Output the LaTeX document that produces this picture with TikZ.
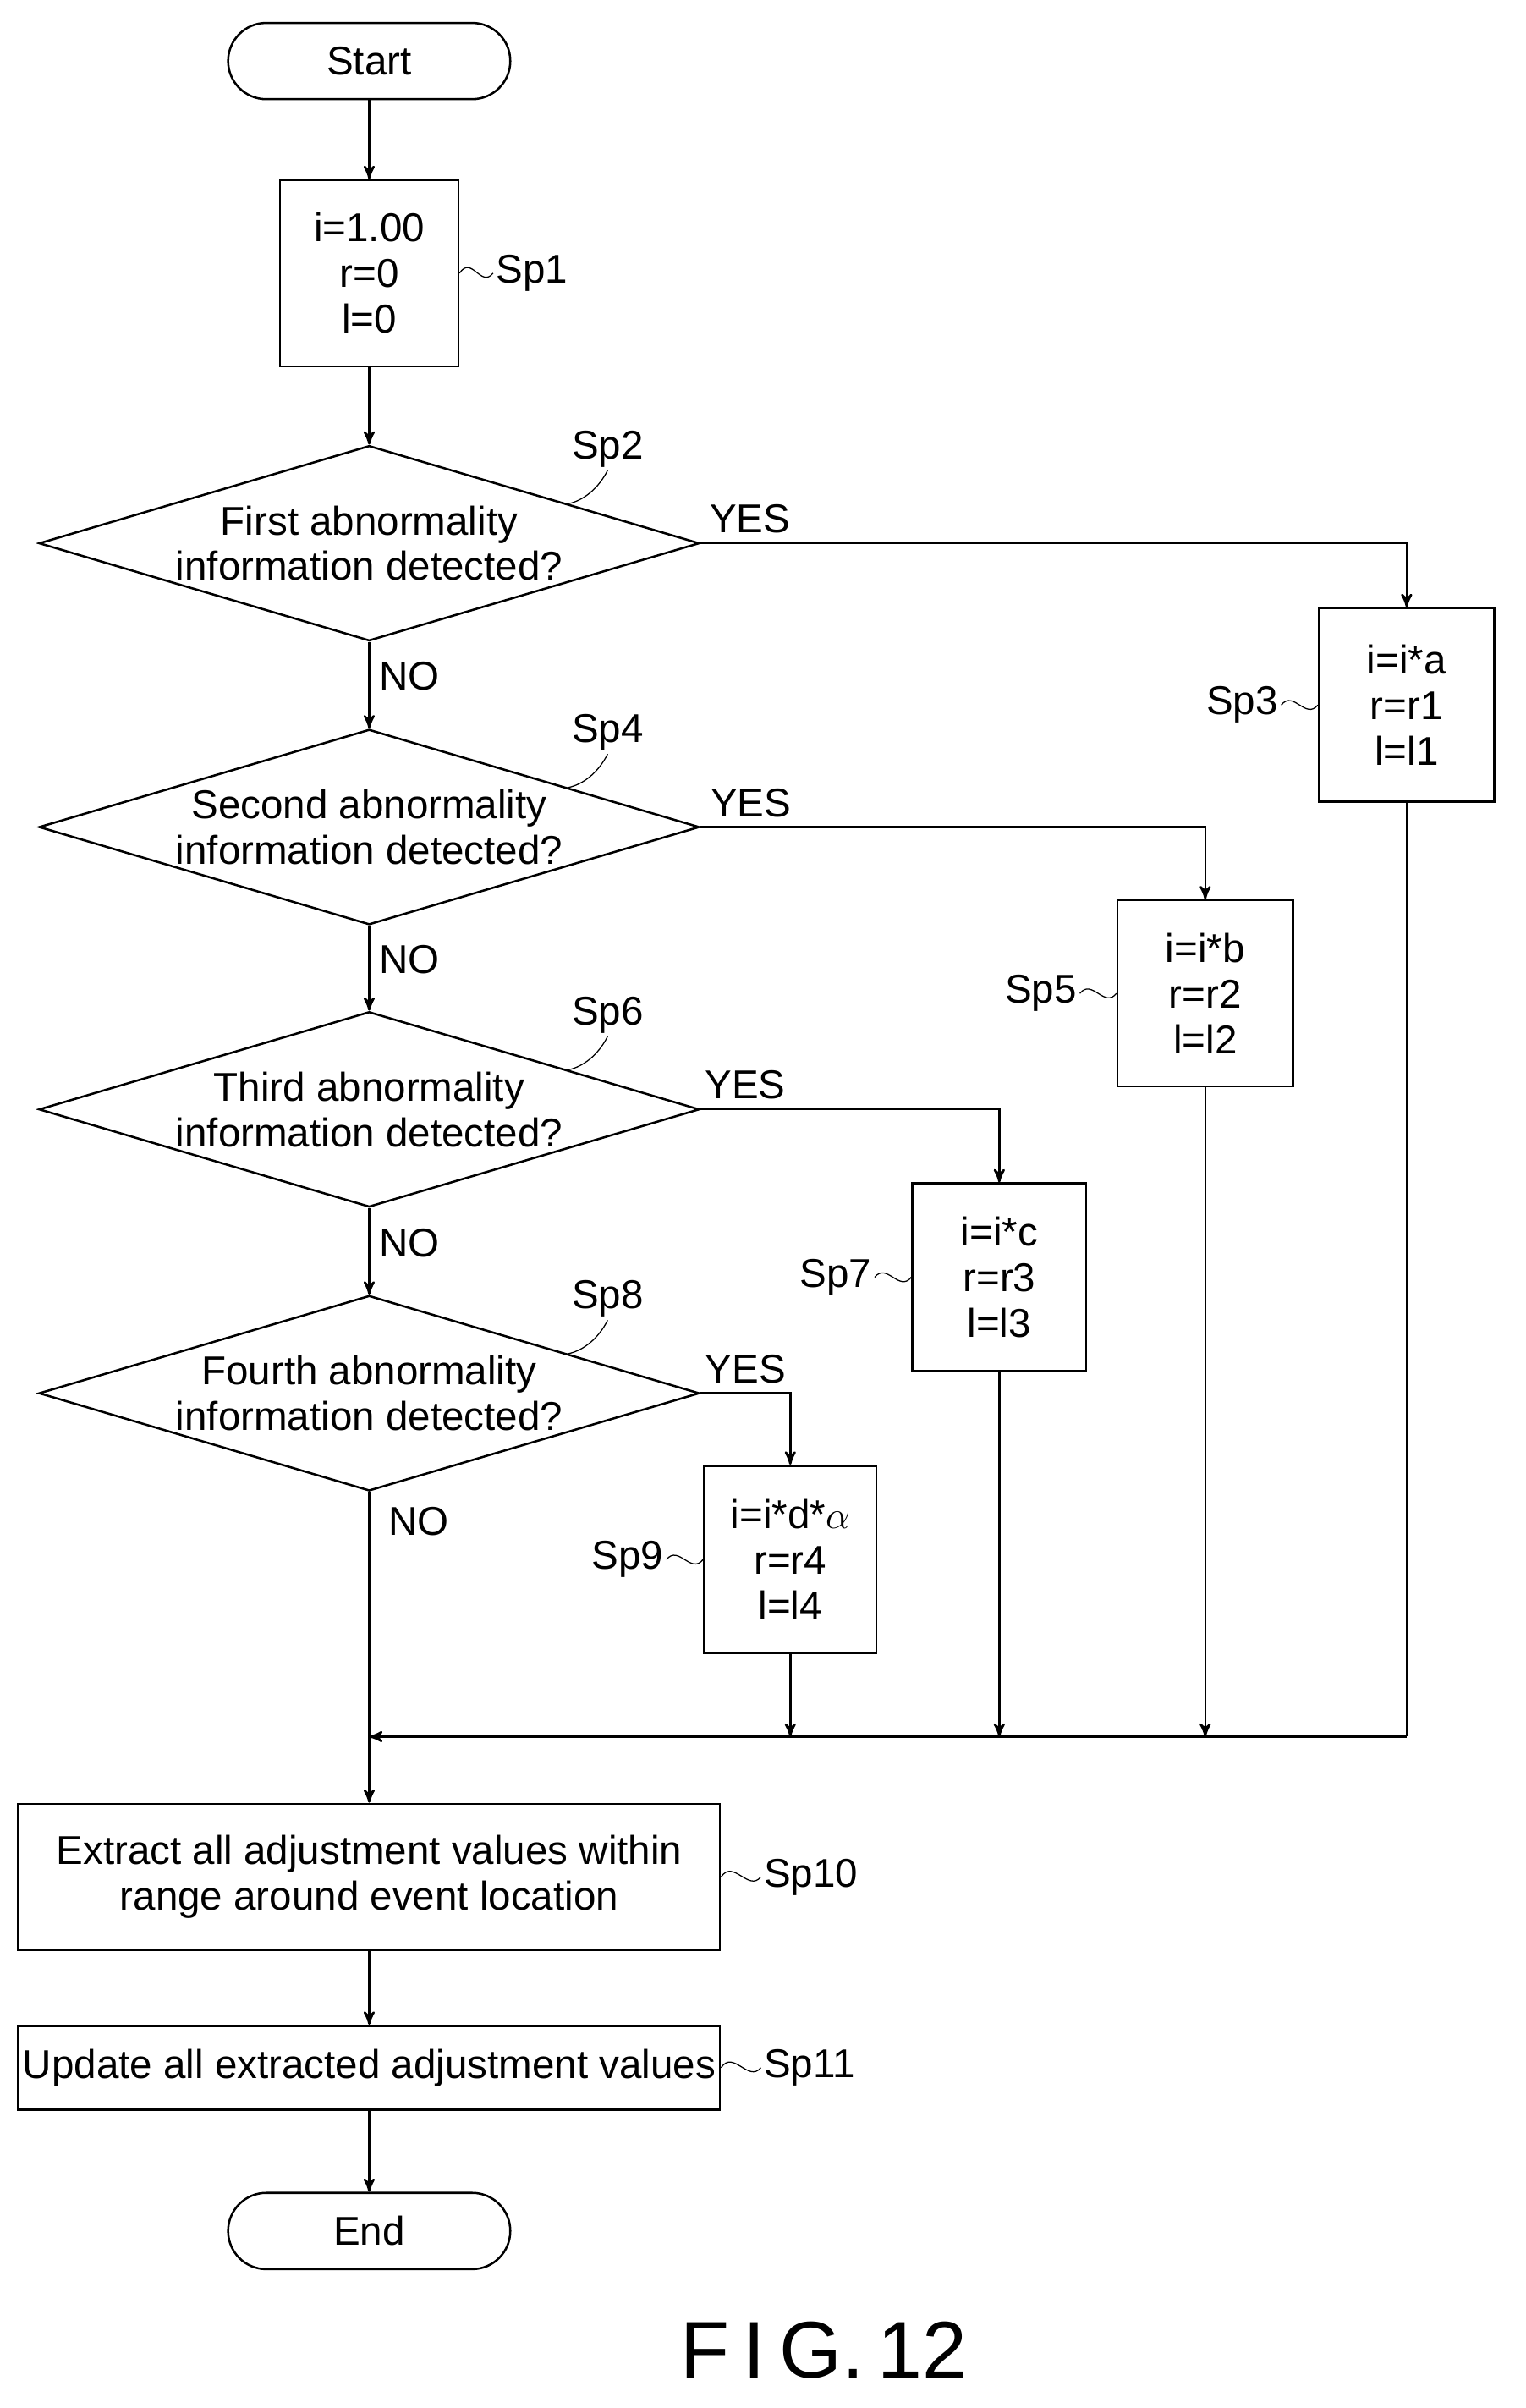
\documentclass[tikz,border=0pt]{standalone}
\usepackage{fontspec}
\setmainfont{Liberation Sans}
\usetikzlibrary{arrows,calc,positioning,shapes.geometric}

\tikzset{
  proc/.style={draw,thick,align=center,inner sep=0pt},
  term/.style={draw,thick,rounded corners=0.5cm,minimum width=3.7cm,minimum height=1cm,inner sep=0pt},
  decision/.style={draw,thick,diamond,aspect=3.38,inner sep=-3pt,align=center,minimum width=8.66cm,minimum height=2.56cm},
  tag/.style={inner sep=1pt},
  wave/.style={thin}
}

\begin{document}
\begin{tikzpicture}[x=0.02cm,y=-0.02cm,>=stealth',thick,font=\fontsize{15}{17}\selectfont]
\useasboundingbox (0,0) rectangle (1000,1578);
			\node[term] (start) at (242,40) {Start};
			\node[proc,minimum width=2.34cm,minimum height=2.44cm] (sp1) at (242,179) {i=1.00\\r=0\\l=0};
			\node[decision] (d1) at (242,356) {First abnormality\\information detected?};
			\node[decision] (d2) at (242,542) {Second abnormality\\information detected?};
			\node[decision] (d3) at (242,727) {Third abnormality\\information detected?};
			\node[decision] (d4) at (242,913) {Fourth abnormality\\information detected?};
			\node[proc,minimum width=2.3cm,minimum height=2.54cm] (sp3) at (922,462) {i=i*a\\r=r1\\l=l1};
			\node[proc,minimum width=2.3cm,minimum height=2.44cm] (sp5) at (790,651) {i=i*b\\r=r2\\l=l2};
			\node[proc,minimum width=2.28cm,minimum height=2.46cm] (sp7) at (655,837) {i=i*c\\r=r3\\l=l3};
			\node[proc,minimum width=2.26cm,minimum height=2.46cm] (sp9) at (518,1022) {i=i*d*$\alpha$\\r=r4\\l=l4};
			\node[proc,minimum width=9.2cm,minimum height=1.92cm] (sp10) at (242,1230) {Extract all adjustment values within\\range around event location};
			\node[proc,minimum width=9.2cm,minimum height=1.1cm] (sp11) at (242,1355) {Update all extracted adjustment values};
			\node[term] (end) at (242,1462) {End};
			\coordinate (join) at (242,1138);
			\coordinate (c3) at (922,356);
			\coordinate (c5) at (790,542);
			\coordinate (c7) at (655,727);
			\coordinate (c9) at (518,913);
			% main line
			\draw[->] (start) -- (sp1);
			\draw[->] (sp1) -- (d1);
			\draw[->] (d1) -- node[right,pos=0.4] {NO} (d2);
			\draw[->] (d2) -- node[right,pos=0.4] {NO} (d3);
			\draw[->] (d3) -- node[right,pos=0.4] {NO} (d4);
			\draw[->] (d4) -- (sp10);
			\node[right] at (248,997) {NO};
			\draw[->] (sp10) -- (sp11);
			\draw[->] (sp11) -- (end);
			% yes branches
			\draw[->] (d1.east) -- node[above,pos=0.07] {YES} (c3) -- (sp3);
			\draw[->] (d2.east) -- node[above,pos=0.1] {YES} (c5) -- (sp5);
			\draw[->] (d3.east) -- node[above,pos=0.15] {YES} (c7) -- (sp7);
			\draw[->] (d4.east) -- node[above,pos=0.5] {YES} (c9) -- (sp9);
			\draw[->] (sp9) -- (sp9 |- join);
			\draw[->] (sp7) -- (sp7 |- join);
			\draw[->] (sp5) -- (sp5 |- join);
			\draw (sp3) -- (sp3 |- join);
			\draw[->] (sp3 |- join) -- (join);
			% step labels
			\draw[wave] (sp1.east) .. controls ++(8,-12) and ++(-8,10) .. ++(22,0) node[tag,right] {Sp1};
			\draw[wave] (sp10.east) .. controls ++(8,-12) and ++(-8,10) .. ++(26,0) node[tag,right] {Sp10};
			\draw[wave] (sp11.east) .. controls ++(8,-12) and ++(-8,10) .. ++(26,0) node[tag,right] {Sp11};
			\draw[wave] (sp3.west) .. controls ++(-8,10) and ++(8,-10) .. ++(-24,0) node[tag,left] {Sp3};
			\draw[wave] (sp5.west) .. controls ++(-8,10) and ++(8,-10) .. ++(-24,0) node[tag,left] {Sp5};
			\draw[wave] (sp7.west) .. controls ++(-8,10) and ++(8,-10) .. ++(-24,0) node[tag,left] {Sp7};
			\draw[wave] (sp9.west) .. controls ++(-8,10) and ++(8,-10) .. ++(-24,0) node[tag,left] {Sp9};
			\foreach \d/\s in {d1/Sp2,d2/Sp4,d3/Sp6,d4/Sp8}
				\draw[wave] ($(\d.north)!0.6!(\d.east)$) .. controls ++(10,-2) and ++(-6,12) .. ++(26,-22) node[tag,above] {\s};
			\node[font=\fontsize{30}{34}\selectfont,inner sep=0pt] (fig) at (540,1540) {F\,I\,G.\,12};
\end{tikzpicture}
\end{document}
